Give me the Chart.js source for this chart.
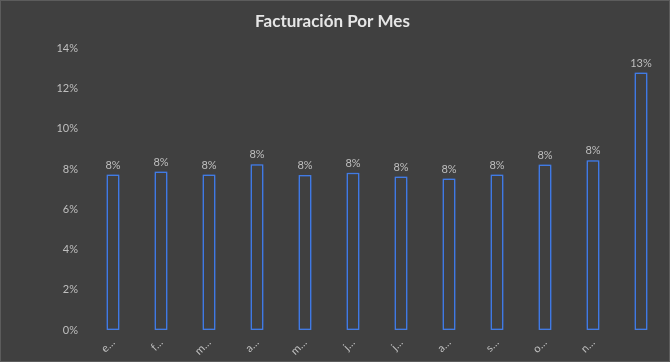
<!DOCTYPE html>
<html>
<head>
<meta charset="utf-8">
<script src="https://cdn.jsdelivr.net/npm/chart.js@4"></script>
<style>
html,body{margin:0;padding:0;background:#404040;}
#wrap{width:670px;height:362px;position:relative;}
</style>
</head>
<body>
<div id="wrap"><canvas id="c" width="670" height="362"></canvas></div>
<script>
// Data (percent of yearly billing per month)
const categories = ["enero","febrero","marzo","abril","mayo","junio","julio","agosto","septiembre","octubre","noviembre","diciembre"];
const tickLabels = ["e…","f…","m…","a…","m…","j…","j…","a…","s…","o…","n…",""];
const values = [7.73, 7.88, 7.73, 8.24, 7.70, 7.82, 7.63, 7.53, 7.73, 8.23, 8.44, 12.8];
const yTicks = [0, 2, 4, 6, 8, 10, 12, 14];

const textColor = '#bfbfbf';
const FONT = 'Lato, "Open Sans", "Liberation Sans", sans-serif';

const glowPlugin = {
  id: 'glow',
  beforeDatasetsDraw(chart) {
    const ctx = chart.ctx;
    ctx.save();
    ctx.shadowColor = 'rgba(50,115,235,1)';
    ctx.shadowBlur = 7;
  },
  afterDatasetsDraw(chart) {
    const ctx = chart.ctx;
    ctx.restore();
    // value labels
    ctx.save();
    ctx.fillStyle = textColor;
    ctx.font = '11px ' + FONT;
    ctx.textAlign = 'center';
    ctx.textBaseline = 'bottom';
    const meta = chart.getDatasetMeta(0);
    meta.data.forEach((bar, i) => {
      ctx.fillText(Math.round(values[i]) + '%', bar.x, bar.y - 4);
    });
    ctx.restore();
  }
};

const bgPlugin = {
  id: 'bg',
  beforeDraw(chart) {
    const ctx = chart.ctx;
    ctx.save();
    ctx.fillStyle = '#404040';
    ctx.fillRect(0, 0, chart.width, chart.height);
    ctx.restore();
  },
  afterDraw(chart) {
    const ctx = chart.ctx;
    ctx.save();
    ctx.strokeStyle = '#5c5c5c';
    ctx.lineWidth = 1;
    ctx.strokeRect(0.5, 0.5, chart.width - 1, chart.height - 1);
    ctx.restore();
  }
};

new Chart(document.getElementById('c'), {
  type: 'bar',
  data: {
    labels: categories,
    datasets: [{
      data: values,
      backgroundColor: 'rgba(64,64,64,1)',
      borderColor: '#4a7fe0',
      borderWidth: 1.5,
      borderSkipped: false,
      barPercentage: 0.27,
      categoryPercentage: 1.0
    }]
  },
  options: {
    responsive: false,
    animation: false,
    devicePixelRatio: 1,
    layout: { padding: { left: 0, right: 5, top: 0, bottom: 0 } },
    plugins: {
      legend: { display: false },
      tooltip: { enabled: false },
      title: {
        display: true,
        text: 'Facturación Por Mes',
        color: '#e6e6e6',
        font: { family: FONT, size: 17, weight: 'bold' },
        padding: { top: 11, bottom: 17 }
      }
    },
    scales: {
      x: {
        offset: true,
        grid: { display: false, drawTicks: false },
        border: { display: false },
        ticks: {
          color: textColor,
          font: { family: FONT, size: 11 },
          minRotation: 45,
          maxRotation: 45,
          autoSkip: false,
          padding: 6,
          callback: (v, i) => tickLabels[i]
        },
        afterFit(scale) { scale.height = 32; }
      },
      y: {
        min: 0,
        max: 14,
        grid: { display: false, drawTicks: false },
        border: { display: false },
        afterBuildTicks(scale) { scale.ticks = yTicks.map(v => ({ value: v })); },
        ticks: {
          color: textColor,
          font: { family: FONT, size: 11 },
          padding: 11,
          callback: v => v + '%'
        },
        afterFit(scale) { scale.width = 89; }
      }
    }
  },
  plugins: [bgPlugin, glowPlugin]
});
</script>
</body>
</html>
